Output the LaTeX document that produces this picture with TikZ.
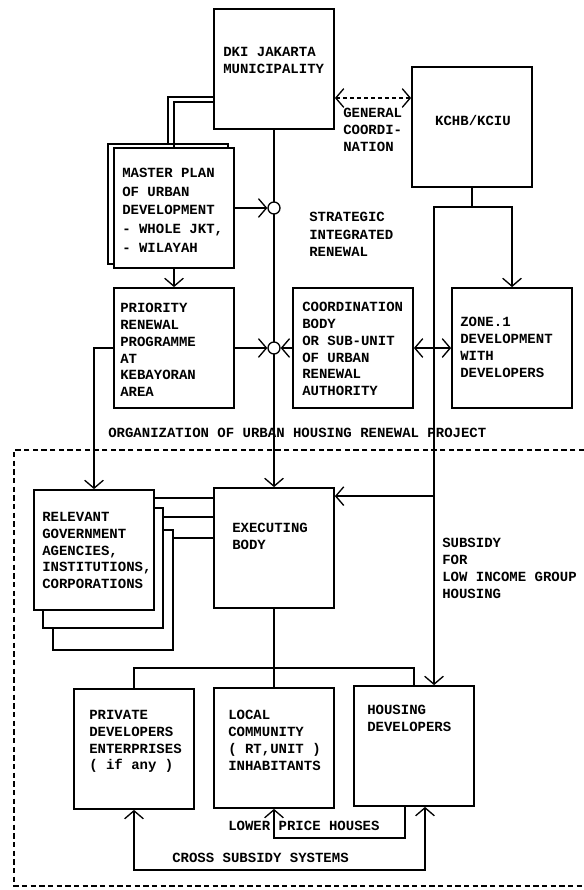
\documentclass[tikz,border=0pt]{standalone}
\usepackage{fontspec}
\setmonofont{Liberation Mono}
\usetikzlibrary{arrows.meta, calc}

\tikzset{
    box/.style={draw, line width=1.3pt, fill=white, minimum width=90pt, minimum height=90pt, inner sep=0pt},
    txt/.style={anchor=north west, align=left, inner sep=0pt},
    conn/.style={line width=1pt},
    hub/.style={draw, circle, fill=white, line width=1pt, minimum size=9pt, inner sep=0pt},
    frame/.style={line width=0.9pt, dash pattern=on 4pt off 2.5pt}
}

\begin{document}
\begin{tikzpicture}[x=0.75pt, y=-0.75pt, >={Straight Barb[length=6pt,width=14pt]},
    every node/.style={font=\ttfamily\bfseries\fontsize{10.5}{12.6}\selectfont}]
    \useasboundingbox (0,0) rectangle (584,890);

    \node[box] (dki) at (274,69) {};
    \node[box] (kchb) at (472,127) {};
    \node[box] (mpback) at (168,204) {};
    \node[box] (mp) at (174,208) {};
    \node[box] (prio) at (174,348) {};
    \node[box] (coord) at (353,348) {};
    \node[box] (zone) at (512,348) {};
    \node[box] (gov3) at (113,590) {};
    \node[box] (gov2) at (103,568) {};
    \node[box] (gov) at (94,550) {};
    \node[box] (exec) at (274,548) {};
    \node[box] (private) at (134,749) {};
    \node[box] (local) at (274,748) {};
    \node[box] (housing) at (414,746) {};

    \draw[frame] (584,450) -- (14,450) -- (14,886) -- (584,886);

    \coordinate (gc) at ($(dki.east)!.5!(kchb.west)$);
    \draw[conn, dash pattern=on 3pt off 2.2pt, <->] (gc -| dki.east) -- (gc -| kchb.west);

    \draw[conn] (mpback.north) |- ($(dki.west)+(0,28)$);
    \draw[conn] (mp.north) |- ($(dki.west)+(0,33)$);
    \draw[conn, ->] (mp.south) -- (prio.north);

    \draw[conn, ->] (dki.south) -- (exec.north);
    \node[hub] (c1) at (dki.south |- mp.east) {};
    \node[hub] (c2) at (dki.south |- prio.east) {};
    \draw[conn, ->] (mp.east) -- (c1);
    \draw[conn, ->] (prio.east) -- (c2);
    \draw[conn, ->] (coord.west) -- (c2);
    \draw[conn, <->] (coord.east) -- (zone.west);

    \coordinate (kb) at ($(kchb.south)+(0,19)$);
    \coordinate (sub) at ($(kb)+(-38,0)$);
    \draw[conn, ->] (kchb.south) -- (kb) -| (zone.north);
    \draw[conn, ->] (kb) -- (sub) -- (sub |- housing.north);
    \coordinate (et) at ($(exec.north east)+(0,9)$);
    \draw[conn, ->] (sub |- et) -- (et);

    \draw[conn, ->] (prio.west) -| (gov.north);
    \coordinate (g1) at ($(gov.north east)+(0,9)$);
    \coordinate (g2) at ($(gov2.north east)+(0,10)$);
    \coordinate (g3) at ($(gov3.north east)+(0,9)$);
    \foreach \p in {g1,g2,g3}
        \draw[conn] (\p) -- (\p -| exec.west);

    \draw[conn] (exec.south) -- (local.north);
    \draw[conn] (private.north) -- ++(0,-20) -| (housing.north);

    \coordinate (lp) at ($(housing.south)+(-9,0)$);
    \draw[conn, ->] (lp) -- ++(0,31) -| (local.south);
    \coordinate (cs) at ($(housing.south)+(11,0)$);
    \draw[conn, <->] (cs) -- ++(0,63) -| (private.south);

    \node[txt] (dkit) at (223,47) {DKI JAKARTA\\MUNICIPALITY};
    \node (kchbt) at (473,120) {KCHB/KCIU};
    \node[txt, font=\ttfamily\bfseries\fontsize{10.5}{14}\selectfont] (mpt) at (122,168)
        {MASTER PLAN\\OF URBAN\\DEVELOPMENT\\- WHOLE JKT,\\- WILAYAH};
    \node[txt] (priot) at (120,303) {PRIORITY\\RENEWAL\\PROGRAMME\\AT\\KEBAYORAN\\AREA};
    \node[txt] (coordt) at (302,302) {COORDINATION\\BODY\\OR SUB-UNIT\\OF URBAN\\RENEWAL\\AUTHORITY};
    \node[txt] (zonet) at (460,317) {ZONE.1\\DEVELOPMENT\\WITH\\DEVELOPERS};
    \node[txt] (govt) at (42,512) {RELEVANT\\GOVERNMENT\\AGENCIES,\\INSTITUTIONS,\\CORPORATIONS};
    \node[txt] (exect) at (232,523) {EXECUTING\\BODY};
    \node[txt] (privt) at (89,710) {PRIVATE\\DEVELOPERS\\ENTERPRISES\\( if any )};
    \node[txt] (localt) at (228,710) {LOCAL\\COMMUNITY\\( RT,UNIT )\\INHABITANTS};
    \node[txt] (houst) at (367,705) {HOUSING\\DEVELOPERS};

    \node[txt] (gct) at (343,108) {GENERAL\\COORDI-\\NATION};
    \node[txt, font=\ttfamily\bfseries\fontsize{10.5}{13.1}\selectfont] (sirt) at (309,212)
        {STRATEGIC\\INTEGRATED\\RENEWAL};
    \node[anchor=west, inner sep=0pt] (orgt) at (108,433) {ORGANIZATION OF URBAN HOUSING RENEWAL PROJECT};
    \node[txt] (subt) at (442,538) {SUBSIDY\\FOR\\LOW INCOME GROUP\\HOUSING};
    \node[anchor=west, inner sep=0pt] (lowt) at (228,826) {LOWER PRICE HOUSES};
    \node[anchor=west, inner sep=0pt] (crosst) at (172,858) {CROSS SUBSIDY SYSTEMS};
\end{tikzpicture}
\end{document}
